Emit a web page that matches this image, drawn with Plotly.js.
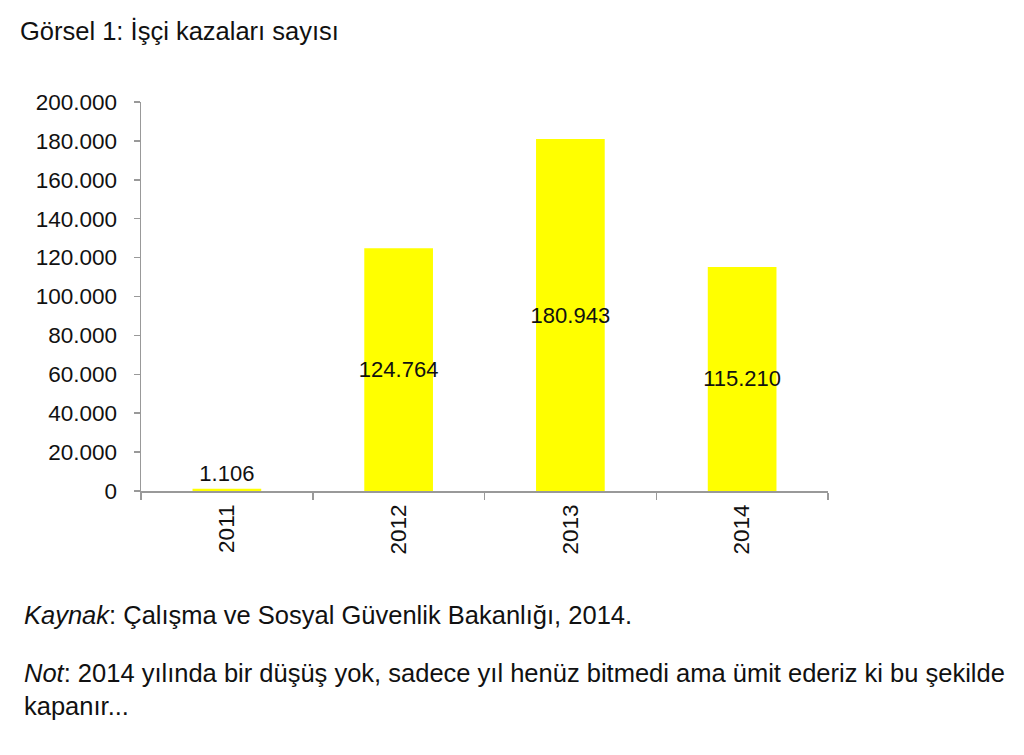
<!DOCTYPE html>
<html>
<head>
<meta charset="utf-8">
<script src="https://cdn.plot.ly/plotly-3.0.1.min.js"></script>
<style>
  html, body { margin: 0; padding: 0; background: #fff; }
  #chart { width: 1024px; height: 755px; }
</style>
</head>
<body>
<div id="chart"></div>
<script>
var years = ['2011', '2012', '2013', '2014'];
var accidents = [1106, 124764, 180943, 115210];
var labelPos = ['outside', 'inside', 'inside', 'inside'];
var yTicks = [0, 20000, 40000, 60000, 80000, 100000, 120000, 140000, 160000, 180000, 200000];

var font = 'Liberation Sans, Arial, Helvetica, sans-serif';

var trace = {
  x: years,
  y: accidents,
  type: 'bar',
  marker: { color: '#ffff00' },
  width: 0.4,
  texttemplate: '%{y:,d}',
  textposition: labelPos,
  insidetextanchor: 'middle',
  textangle: 0,
  constraintext: 'none',
  cliponaxis: false,
  textfont: { family: font, size: 22, color: '#111' },
  hoverinfo: 'none'
};

var layout = {
  width: 1024,
  height: 755,
  separators: ',.',
  paper_bgcolor: '#fff',
  plot_bgcolor: '#fff',
  showlegend: false,
  margin: { l: 141, r: 196, t: 102, b: 264, pad: 0 },
  font: { family: font, size: 22, color: '#111' },
  title: {
    text: 'Görsel 1: İşçi kazaları sayısı',
    x: 20 / 1024, xanchor: 'left',
    y: 1 - 31 / 755, yanchor: 'middle',
    font: { family: font, size: 25.5, color: '#111' }
  },
  xaxis: {
    type: 'category',
    showline: true, linecolor: '#999', linewidth: 1.5,
    showgrid: false, zeroline: false,
    ticks: 'outside', tickson: 'boundaries', ticklen: 7, tickcolor: '#999', tickwidth: 1.5,
    tickangle: -90,
    ticklabelstandoff: 3,
    tickfont: { family: font, size: 22.5, color: '#111' }
  },
  yaxis: {
    range: [0, 200000],
    tickvals: yTicks,
    tickformat: ',d',
    showline: true, linecolor: '#999', linewidth: 1.5,
    showgrid: false, zeroline: false,
    ticks: 'outside', ticklen: 6, tickcolor: '#999', tickwidth: 1.5,
    ticklabelstandoff: 12,
    tickfont: { family: font, size: 22.5, color: '#111' }
  },
  annotations: [
    {
      xref: 'paper', yref: 'paper',
      x: (22 - 141) / 687, y: -(615 - 491) / 389,
      xanchor: 'left', yanchor: 'middle', showarrow: false, align: 'left',
      text: '<i>Kaynak</i>: Çalışma ve Sosyal Güvenlik Bakanlığı, 2014.',
      font: { family: font, size: 25.5, color: '#111' }
    },
    {
      xref: 'paper', yref: 'paper',
      x: (22 - 141) / 687, y: -(689 - 491) / 389,
      xanchor: 'left', yanchor: 'middle', showarrow: false, align: 'left',
      text: '<i>Not</i>: 2014 yılında bir düşüş yok, sadece yıl henüz bitmedi ama ümit ederiz ki bu şekilde<br>kapanır...',
      font: { family: font, size: 25.5, color: '#111' }
    }
  ]
};

Plotly.newPlot('chart', [trace], layout, { displayModeBar: false, staticPlot: true });
</script>
</body>
</html>
